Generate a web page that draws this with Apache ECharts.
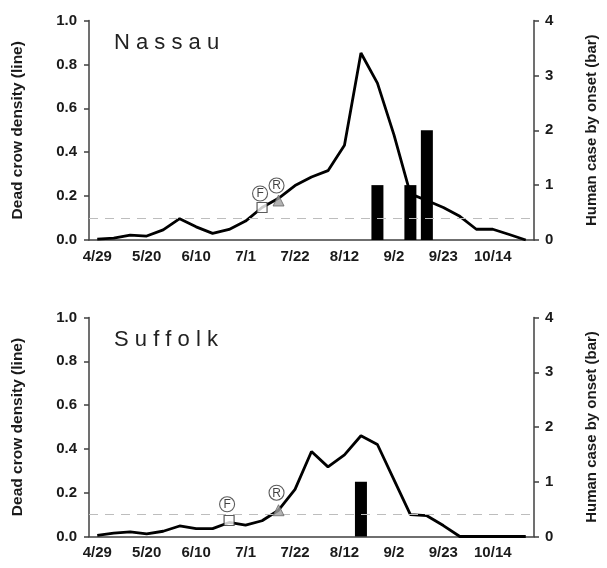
<!DOCTYPE html>
<html>
<head>
<meta charset="utf-8">
<script src="https://cdn.jsdelivr.net/npm/echarts@6/dist/echarts.min.js"></script>
<style>
html,body{margin:0;padding:0;background:#fff;}
#chart{width:607px;height:568px;}
</style>
</head>
<body>
<div id="chart"></div>
<script>
// Weekly categories (x axis)
const weeks = ['4/29','5/6','5/13','5/20','5/27','6/3','6/10','6/17','6/24','7/1','7/8','7/15','7/22','7/29','8/5','8/12','8/19','8/26','9/2','9/9','9/16','9/23','9/30','10/7','10/14','10/21','10/28'];

// Nassau
const nassauDensity = [0.004,0.009,0.022,0.018,0.046,0.097,0.06,0.03,0.048,0.086,0.148,0.19,0.248,0.287,0.316,0.432,0.852,0.715,0.48,0.21,0.18,0.148,0.108,0.049,0.049,0.025,0];
const nassauCases   = [null,null,null,null,null,null,null,null,null,null,null,null,null,null,null,null,null,1,null,1,2,null,null,null,null,null,null];
const nassauF = [10, 0.148];   // square
const nassauFLabel = [10, 0.212];
const nassauR = [11, 0.18];    // triangle
const nassauRLabel = [11, 0.248];

// Suffolk
const suffolkDensity = [0.005,0.015,0.021,0.012,0.024,0.048,0.036,0.036,0.064,0.052,0.072,0.12,0.215,0.388,0.318,0.373,0.46,0.42,0.26,0.1,0.095,0.05,0,0,0,0,0];
const suffolkCases   = [null,null,null,null,null,null,null,null,null,null,null,null,null,null,null,null,1,null,null,null,null,null,null,null,null,null,null];
const suffolkF = [8, 0.073];
const suffolkFLabel = [8, 0.147];
const suffolkR = [11, 0.12];
const suffolkRLabel = [11, 0.2];

const threshold = 0.1;

const FONT = 'Liberation Sans, Arial, Helvetica, sans-serif';
const axisColor = '#404040';

const grids = [
  {left: 89, top: 20.5, width: 453, height: 219.5},
  {left: 89, top: 317.5, width: 453, height: 219}
];

function xAxis(i){
  return {
    type:'category', gridIndex:i, data:weeks, boundaryGap:true,
    axisLine:{show:true, lineStyle:{color:axisColor, width:1.5}},
    axisTick:{show:false},
    axisLabel:{interval:2, margin:9, fontFamily:FONT, fontWeight:'bold', fontSize:15, color:'#1a1a1a'},
    splitLine:{show:false}
  };
}
function yLeft(i){
  return {
    type:'value', gridIndex:i, min:0, max:1, interval:0.2, position:'left',
    name:'Dead crow density (line)', nameLocation:'middle', nameGap:63, nameRotate:90,
    nameTextStyle:{fontFamily:FONT, fontWeight:'bold', fontSize:15.5, color:'#1a1a1a'},
    axisLine:{show:true, lineStyle:{color:axisColor, width:1.5}},
    axisTick:{show:true, inside:false, length:5, lineStyle:{color:axisColor, width:1.5}},
    axisLabel:{margin:12, fontFamily:FONT, fontWeight:'bold', fontSize:15, color:'#1a1a1a', formatter:v=>v.toFixed(1)},
    splitLine:{show:false}
  };
}
function yRight(i){
  return {
    type:'value', gridIndex:i, min:0, max:4, interval:1, position:'right',
    name:'Human case by onset (bar)', nameLocation:'middle', nameGap:50, nameRotate:90,
    nameTextStyle:{fontFamily:FONT, fontWeight:'bold', fontSize:15, color:'#1a1a1a'},
    axisLine:{show:true, lineStyle:{color:axisColor, width:1.5}},
    axisTick:{show:true, inside:false, length:5, lineStyle:{color:axisColor, width:1.5}},
    axisLabel:{margin:11, fontFamily:FONT, fontWeight:'bold', fontSize:15, color:'#1a1a1a'},
    splitLine:{show:false}
  };
}

function panelSeries(g, density, cases, fPos, fLab, rPos, rLab){
  const xi = g, yl = g*2, yr = g*2+1;
  return [
    {type:'bar', xAxisIndex:xi, yAxisIndex:yr, data:cases, barWidth:12, itemStyle:{color:'#000'}, z:3, silent:true},
    {type:'line', xAxisIndex:xi, yAxisIndex:yl, data:density, symbol:'none', lineStyle:{color:'#000', width:2.8}, z:2, silent:true,
      markLine:{silent:true, symbol:'none', label:{show:false}, lineStyle:{color:'#bdbdbd', type:[9,7], width:1}, data:[{yAxis:threshold}]}},
    {type:'scatter', xAxisIndex:xi, yAxisIndex:yl, data:[fPos], symbol:'rect', symbolSize:10,
      itemStyle:{color:'#fff', borderColor:'#333', borderWidth:1.2}, z:5, silent:true},
    {type:'scatter', xAxisIndex:xi, yAxisIndex:yl, data:[rPos], symbol:'triangle', symbolSize:11,
      itemStyle:{color:'#a0a0a0', borderColor:'#666', borderWidth:1}, z:5, silent:true},
    {type:'scatter', xAxisIndex:xi, yAxisIndex:yl, data:[fLab], symbol:'circle', symbolSize:15, symbolOffset:[-2,0],
      itemStyle:{color:'#fff', borderColor:'#333', borderWidth:1.1},
      label:{show:true, position:'inside', offset:[0,0.5], formatter:'F', fontFamily:FONT, fontSize:12, color:'#111'}, z:6, silent:true},
    {type:'scatter', xAxisIndex:xi, yAxisIndex:yl, data:[rLab], symbol:'circle', symbolSize:15, symbolOffset:[-2,0],
      itemStyle:{color:'#fff', borderColor:'#333', borderWidth:1.1},
      label:{show:true, position:'inside', offset:[0,0.5], formatter:'R', fontFamily:FONT, fontSize:12, color:'#111'}, z:6, silent:true}
  ];
}

const chart = echarts.init(document.getElementById('chart'), null, {renderer:'canvas'});
chart.setOption({
  animation:false,
  backgroundColor:'#fff',
  title:[
    {text:'N a s s a u', left:114, top:32, padding:0, textStyle:{fontFamily:FONT, fontWeight:'normal', fontSize:22, color:'#222'}},
    {text:'S u f f o l k', left:114, top:329, padding:0, textStyle:{fontFamily:FONT, fontWeight:'normal', fontSize:22, color:'#222'}}
  ],
  grid:grids,
  xAxis:[xAxis(0), xAxis(1)],
  yAxis:[yLeft(0), yRight(0), yLeft(1), yRight(1)],
  series:[].concat(
    panelSeries(0, nassauDensity, nassauCases, nassauF, nassauFLabel, nassauR, nassauRLabel),
    panelSeries(1, suffolkDensity, suffolkCases, suffolkF, suffolkFLabel, suffolkR, suffolkRLabel)
  )
});
</script>
</body>
</html>
